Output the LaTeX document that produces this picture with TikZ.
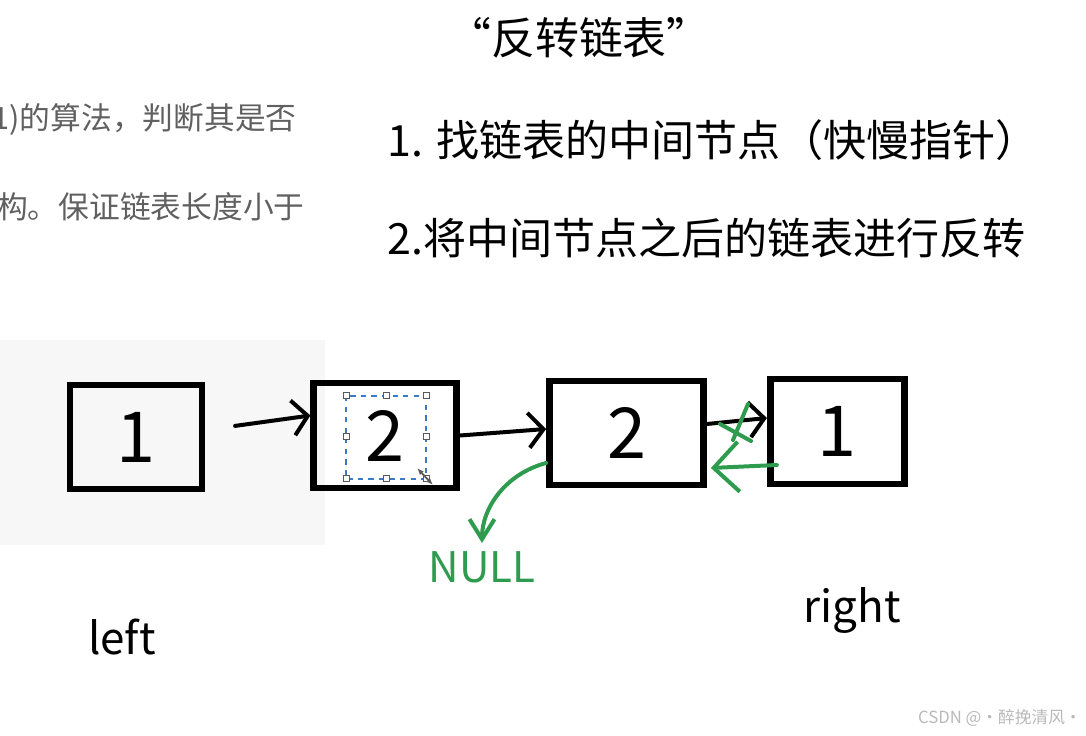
\documentclass[tikz,border=0pt]{standalone}
\usepackage{fontspec}
\setmainfont{Noto Sans CJK SC}
\usepackage{xcolor}
\usepackage{tikz}
\usetikzlibrary{arrows.meta,positioning,backgrounds}
\definecolor{penGreen}{HTML}{2F9B4F}
\definecolor{noteGray}{HTML}{606060}
\definecolor{selBlue}{HTML}{3A7BC8}
\newcommand{\fsz}[1]{\fontsize{#1}{1.2\dimexpr#1\relax}\selectfont}

\begin{document}
\begin{tikzpicture}[x=0.2mm,y=-0.2mm,
  font=\fsz{17pt}, >={Straight Barb[length=3mm,width=7mm]},
  box/.style={draw,line width=1.35mm,inner sep=0pt,font=\fsz{40pt}},
  pen/.style={line width=0.8mm,line cap=round,line join=round},
  gpen/.style={pen,draw=penGreen},
  note/.style={text=noteGray,font=\fsz{17.5pt},inner sep=0pt},
  stepline/.style={anchor=west,font=\fsz{24.5pt},inner sep=0pt},
  lab/.style={font=\fsz{25pt},inner sep=0pt},
  handle/.style={draw=gray!70!black,fill=white,line width=0.2mm,minimum size=1.2mm,inner sep=0pt}]
\useasboundingbox (0,0) rectangle (1086,736);
% page background from the screenshot
\fill[gray!6] (0,340) rectangle (325,545);
% headline and steps
\node[font=\fsz{25pt}] (title) at (579,38) {“反转链表”};
\node[note,anchor=east] (txtA) at (297,120) {1)的算法，判断其是否};
\node[note,anchor=east] (txtB) at (305,207) {构。保证链表长度小于};
\node[stepline] (stepA) at (387,140) {1. 找链表的中间节点（快慢指针）};
\node[stepline] (stepB) at (387,238) {2.将中间节点之后的链表进行反转};
% list nodes
\node[box,minimum width=26.4mm,minimum height=20.8mm] (n1) at (136,437) {1};
\node[box,minimum width=28.6mm,minimum height=21mm,right=21mm of n1,yshift=0.3mm] (n2) {2};
\node[box,minimum width=30.8mm,minimum height=20.8mm,right=17.2mm of n2,yshift=0.5mm] (n3) {2};
\node[box,minimum width=26.8mm,minimum height=21mm,right=12mm of n3,yshift=0.3mm] (n4) {1};
\foreach \x/\y/\s/\a/\b in {n1/n2/6mm/1.4mm/4mm,n2/n3/0mm/0mm/0.8mm,n3/n4/0mm/1.8mm/2.7mm}
  \draw[pen,->,shorten <=\s] ([yshift=\a]\x.east) -- ([yshift=\b]\y.west);
% selection frame round the second node's value
\draw[selBlue,dashed,line width=0.25mm] (346,396) rectangle (426,479);
\foreach \p in {(346,396),(386,396),(426,396),(346,437),(426,437),(346,479),(386,479),(426,479)}
  \node[handle] at \p {};
\draw[gray!70!black,line width=0.35mm,{Latex[length=1.4mm]}-{Latex[length=1.4mm]}] (417,468) -- (433,485);
% reversal marks
\node[text=penGreen,font=\fsz{24pt},inner sep=0pt] (null) at (482,567) {NULL};
\draw[gpen,->,>={Straight Barb[length=4mm,width=5mm]},shorten >=1.6mm] ([yshift=-6mm]n3.west) to[out=195,in=90] (null.north);
\draw[gpen,->,>={Straight Barb[length=5mm,width=10mm]}] ([xshift=2mm,yshift=-6.7mm]n4.west) -- ([xshift=0.8mm,yshift=-7mm]n3.east);
\draw[gpen] (748,404) -- (733,440);
\draw[gpen] (720,424) -- (751,441);
% end labels
\node[lab] (lft) at (122,637) {left};
\node[lab] (rgt) at (852,611) {right};
\node[text=gray!55,font=\fsz{9.5pt},anchor=east,inner sep=0pt] (mark) at (1082,718) {CSDN @·醉挽清风·};
\end{tikzpicture}
\end{document}
